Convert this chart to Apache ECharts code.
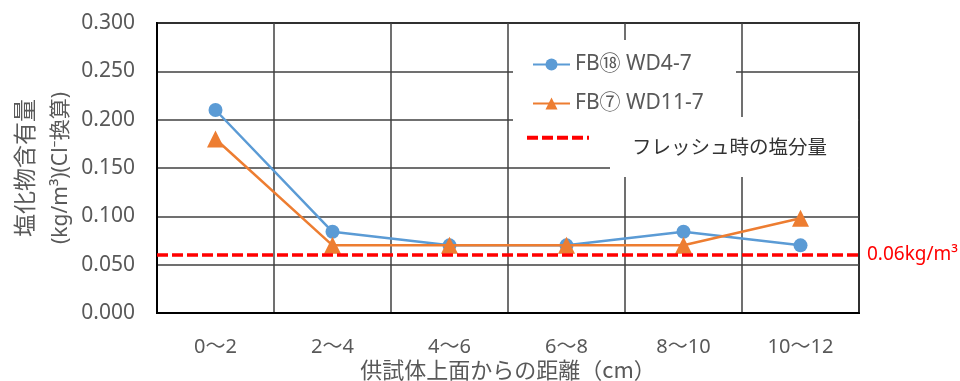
<!DOCTYPE html>
<html>
<head>
<meta charset="utf-8">
<script src="https://cdn.jsdelivr.net/npm/echarts@6/dist/echarts.min.js"></script>
<style>
  html, body { margin: 0; padding: 0; background: #fff; }
  #chart { width: 960px; height: 381px; }
</style>
</head>
<body>
<div id="chart"></div>
<script>
// 深さ区間（cm）
const categories = ['0～2', '2～4', '4～6', '6～8', '8～10', '10～12'];
// 塩化物含有量 (kg/m3)
const seriesFB18 = [0.210, 0.084, 0.070, 0.070, 0.084, 0.070];
const seriesFB7 = [0.180, 0.070, 0.070, 0.070, 0.070, 0.098];
// フレッシュ時の塩分量
const freshChloride = 0.06;
const seriesNames = ['FB⑱ WD4-7', 'FB⑦ WD11-7', 'フレッシュ時の塩分量'];

const FONT = '"Noto Sans", "Noto Sans CJK JP", sans-serif';
const FONT_JP = '"Noto Sans CJK JP", sans-serif';
const GREY = '#595959';

const chart = echarts.init(document.getElementById('chart'), null, { renderer: 'canvas' });

chart.setOption({
  animation: false,
  backgroundColor: '#fff',
  textStyle: { fontFamily: FONT },
  grid: {
    left: 157, right: 101, top: 23, bottom: 68,
    outerBoundsMode: 'none',
    containLabel: false,
    show: true, borderColor: '#000', borderWidth: 2, backgroundColor: 'transparent'
  },
  xAxis: {
    type: 'category',
    data: categories,
    boundaryGap: true,
    axisLine: { show: true, lineStyle: { color: '#000', width: 2 } },
    axisTick: { show: false },
    axisLabel: { color: GREY, fontSize: 20, margin: 24, fontFamily: FONT },
    splitLine: { show: true, lineStyle: { color: '#404040', width: 1.5 } },
    name: '供試体上面からの距離（cm）',
    nameLocation: 'middle',
    nameMoveOverlap: false,
    nameGap: 46,
    nameTextStyle: { color: GREY, fontSize: 22, fontFamily: FONT_JP, verticalAlign: 'top' }
  },
  yAxis: {
    type: 'value',
    min: 0, max: 0.3, interval: 0.05,
    axisLine: { show: true, lineStyle: { color: '#000', width: 2 } },
    axisTick: { show: false },
    axisLabel: {
      color: GREY, fontSize: 21, margin: 22, fontFamily: FONT,
      formatter: v => v.toFixed(3)
    },
    splitLine: { show: true, lineStyle: { color: '#404040', width: 1.5 } },
    name: '{a|塩化物含有量}\n{b|(kg/m³)(Cl⁻換算)}',
    nameLocation: 'middle',
    nameRotate: 90,
    nameGap: 78,
    nameMoveOverlap: false,
    nameTextStyle: {
      color: GREY,
      rich: {
        a: { fontSize: 23, lineHeight: 38, color: GREY, fontFamily: FONT_JP },
        b: { fontSize: 21, lineHeight: 36, color: GREY, fontFamily: FONT }
      }
    }
  },
  legend: [
    {
      data: [seriesNames[0], seriesNames[1]],
      orient: 'vertical',
      left: 532, top: 54,
      itemWidth: 37, itemHeight: 15, itemGap: 18,
      padding: 0,
      textStyle: { color: GREY, fontSize: 21, fontFamily: FONT },
      z: 10
    },
    {
      data: [seriesNames[2]],
      orient: 'vertical',
      left: 525, top: 119,
      itemWidth: 62, itemHeight: 14,
      padding: 0,
      itemStyle: { color: 'transparent', borderColor: 'transparent', borderWidth: 0 },
      lineStyle: { color: '#FF0000', width: 4, type: [11, 4] },
      formatter: n => '\n' + n,
      textStyle: { color: '#333', fontSize: 19.5, lineHeight: 18, fontFamily: FONT_JP, padding: [0, 0, 0, 38] },
      z: 10
    }
  ],
  graphic: [
    // 凡例の白地
    { type: 'rect', shape: { x: 513, y: 40, width: 223, height: 78 }, style: { fill: '#fff' }, z: 5, silent: true },
    { type: 'rect', shape: { x: 513, y: 117, width: 98, height: 50 }, style: { fill: '#fff' }, z: 5, silent: true },
    { type: 'rect', shape: { x: 610, y: 117, width: 248, height: 60 }, style: { fill: '#fff' }, z: 5, silent: true }
  ],
  series: [
    {
      name: seriesNames[0],
      type: 'line',
      data: seriesFB18,
      symbol: 'circle',
      symbolSize: 14,
      itemStyle: { color: '#5B9BD5' },
      lineStyle: { color: '#5B9BD5', width: 2.5 },
      z: 3
    },
    {
      name: seriesNames[1],
      type: 'line',
      data: seriesFB7,
      symbol: 'triangle',
      symbolSize: 17,
      itemStyle: { color: '#ED7D31' },
      lineStyle: { color: '#ED7D31', width: 2.5 },
      z: 4
    },
    {
      name: seriesNames[2],
      type: 'line',
      data: [],
      symbol: 'none',
      itemStyle: { color: '#FF0000' },
      lineStyle: { color: '#FF0000', width: 3.5, type: [11, 4] },
      markLine: {
        silent: true,
        symbol: 'none',
        lineStyle: { color: '#FF0000', width: 3.5, type: [11, 4] },
        label: {
          show: true,
          position: 'end',
          distance: 8,
          color: '#FF0000',
          fontSize: 19,
          fontFamily: FONT,
          formatter: () => freshChloride.toFixed(2) + 'kg/m³'
        },
        data: [{ yAxis: freshChloride }]
      },
      z: 6
    }
  ]
});
</script>
</body>
</html>
